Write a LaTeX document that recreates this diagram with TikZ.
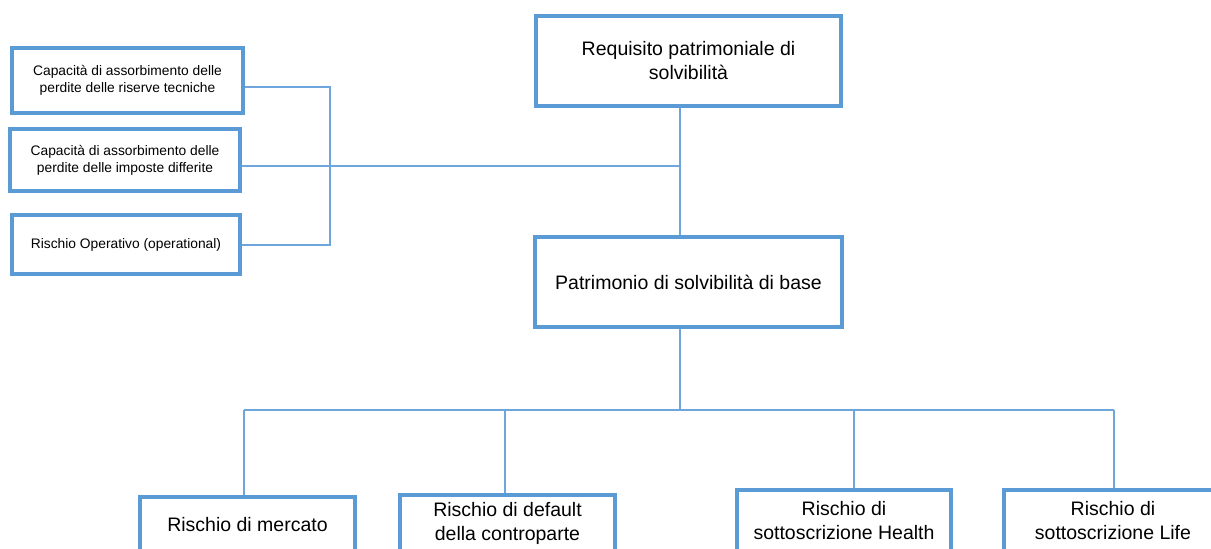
\documentclass[tikz,border=0pt]{standalone}
\usepackage{fontspec}
\setmainfont{Liberation Sans}
\definecolor{boxblue}{RGB}{91,155,213}
\definecolor{lineblue}{RGB}{110,165,220}
\begin{document}
\begin{tikzpicture}[x=1pt,y=-1pt,
  box/.style={draw=boxblue, line width=4pt, fill=white, rectangle, inner sep=0pt, align=center},
  big/.style={font=\fontsize{19.5}{24}\selectfont},
  small/.style={font=\fontsize{13.8}{17}\selectfont},
  conn/.style={draw=lineblue, line width=1.3pt}]
\clip (0,0) rectangle (1211,549);
\fill[white] (0,0) rectangle (1211,549);
% connectors first
\coordinate (j1) at (680,166);
\coordinate (jb) at (330,166);
\coordinate (bus) at (680,410);
\coordinate (busL) at (244,410);
\coordinate (busR) at (1114,410);
% nodes
\node[box,big,minimum width=305pt,minimum height=90pt] (t) at (688.5,61) {Requisito patrimoniale di\\solvibilità};
\node[box,big,minimum width=307pt,minimum height=90pt] (m) at (688.5,282) {Patrimonio di solvibilità di base};
\node[box,small,minimum width=231pt,minimum height=65pt] (l1) at (127.5,80.5) {Capacità di assorbimento delle\\perdite delle riserve tecniche};
\node[box,small,minimum width=230pt,minimum height=62pt] (l2) at (125,160) {Capacità di assorbimento delle\\perdite delle imposte differite};
\node[box,small,minimum width=228pt,minimum height=59pt] (l3) at (126,244.5) {Rischio Operativo (operational)};
\node[box,big,minimum width=215pt,minimum height=56pt] (a) at (247.5,525) {Rischio di mercato};
\node[box,big,minimum width=215pt,minimum height=57pt] (b) at (507.5,523.5) {Rischio di default\\della controparte};
\node[box,big,minimum width=214pt,minimum height=62pt] (c) at (844,521) {Rischio di\\sottoscrizione Health};
\node[box,big,minimum width=218pt,minimum height=62pt] (d) at (1113,521) {Rischio di\\sottoscrizione Life};
% connectors
\draw[conn] (t.south -| j1) -- (m.north -| j1);
\draw[conn] (l2.east |- j1) -- (j1);
\draw[conn] (l1.east |- 0,87) -- (330,87) -- (330,245) -- (l3.east |- 0,245);
\draw[conn] (m.south -| bus) -- (bus);
\draw[conn] (busL) -- (busR);
\draw[conn] (busL) -- (a.north -| busL);
\draw[conn] (505,410) -- (b.north -| 505,0);
\draw[conn] (854,410) -- (c.north -| 854,0);
\draw[conn] (busR) -- (d.north -| busR);
\end{tikzpicture}
\end{document}
